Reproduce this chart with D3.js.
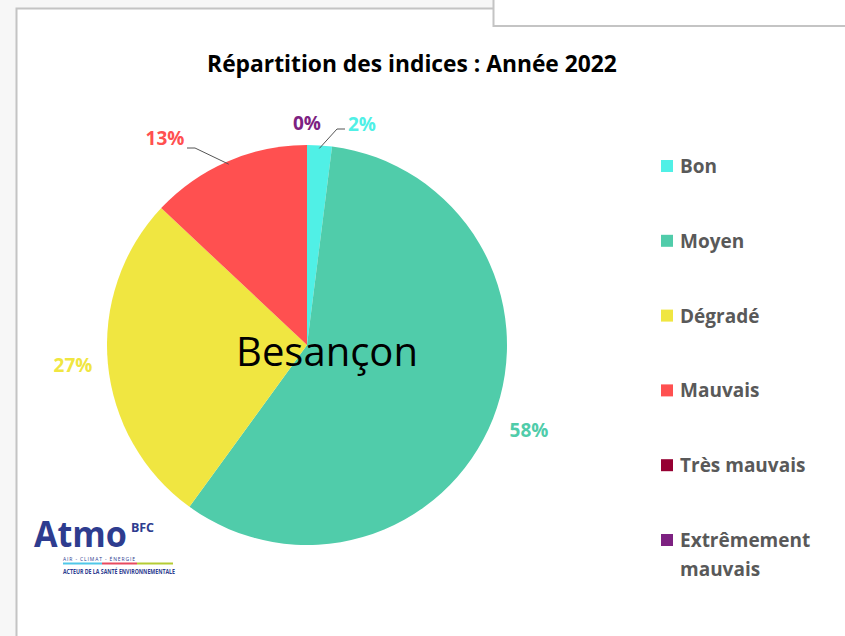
<!DOCTYPE html>
<html>
<head>
<meta charset="utf-8">
<script src="https://cdn.jsdelivr.net/npm/d3@7"></script>
<style>
  body { margin: 0; background: #f7f7f7; }
  svg { display: block; }
</style>
</head>
<body>
<div id="chart"></div>
<script>
var categories = ["Bon", "Moyen", "Dégradé", "Mauvais", "Très mauvais", "Extrêmement mauvais"];
var values = [2, 58, 27, 13, 0, 0];
var colors = ["#50F0E6", "#50CCAA", "#F0E641", "#FF5050", "#960032", "#7D2181"];
var legendLines = [["Bon"], ["Moyen"], ["Dégradé"], ["Mauvais"], ["Très mauvais"], ["Extrêmement", "mauvais"]];

var W = 845, H = 636;
var font = "'Open Sans', sans-serif";

var svg = d3.select("#chart").append("svg").attr("width", W).attr("height", H);

// panels
svg.append("rect").attr("x", 16.5).attr("y", 8.5).attr("width", W).attr("height", H)
  .attr("fill", "#fff").attr("stroke", "#c4c4c4").attr("stroke-width", 2);
svg.append("rect").attr("x", 493.5).attr("y", -5).attr("width", 400).attr("height", 31)
  .attr("fill", "#fff").attr("stroke", "#c4c4c4").attr("stroke-width", 2);

// title
svg.append("text").attr("x", 412).attr("y", 72).attr("text-anchor", "middle")
  .style("font-family", font).style("font-weight", "bold").style("font-size", "22.8px")
  .attr("fill", "#000").text("Répartition des indices : Année 2022");

var cx = 307, cy = 345, r = 200;
var color = d3.scaleOrdinal().domain(categories).range(colors);

var data = categories.map(function (c, i) { return { name: c, value: values[i] }; });
var pie = d3.pie().sort(null).value(function (d) { return d.value; });
var arcs = pie(data);
var arc = d3.arc().innerRadius(0).outerRadius(r);

var g = svg.append("g").attr("transform", "translate(" + cx + "," + cy + ")");
g.selectAll("path").data(arcs).enter().append("path")
  .attr("d", arc)
  .attr("fill", function (d) { return color(d.data.name); });

// labels
var labelPos = {
  "Bon": [362, 131, "middle"],
  "Moyen": [529, 437, "middle"],
  "Dégradé": [73, 372, "middle"],
  "Mauvais": [165, 145, "middle"],
  "Très mauvais": [-1, -1, "middle"],
  "Extrêmement mauvais": [307, 130, "middle"]
};
arcs.forEach(function (a) {
  var p = labelPos[a.data.name];
  if (p[0] < 0) return;
  svg.append("text").attr("x", p[0]).attr("y", p[1]).attr("text-anchor", p[2])
    .style("font-family", font).style("font-weight", "bold").style("font-size", "19px")
    .attr("fill", color(a.data.name)).text(Math.round(a.value) + "%");
});

// leader lines
function leader(name, pts) {
  var a = arcs.find(function (d) { return d.data.name === name; });
  var m = (a.startAngle + a.endAngle) / 2;
  var start = [cx + Math.sin(m) * (r - 3), cy - Math.cos(m) * (r - 3)];
  svg.append("path")
    .attr("d", d3.line()([start].concat(pts)))
    .attr("fill", "none").attr("stroke", "#555").attr("stroke-width", 1);
}
leader("Bon", [[337, 129], [345, 129]]);
leader("Mauvais", [[195, 148], [187, 148]]);

// center text
svg.append("text").attr("x", 327).attr("y", 366).attr("text-anchor", "middle")
  .style("font-family", font).style("font-size", "40px")
  .attr("fill", "#000").text("Besançon");

// legend
var legend = svg.append("g");
legendLines.forEach(function (lines, i) {
  var y = 166 + i * 74.8;
  legend.append("rect").attr("x", 661).attr("y", y - 6).attr("width", 12).attr("height", 12)
    .attr("fill", colors[i]);
  lines.forEach(function (t, j) {
    legend.append("text").attr("x", 680).attr("y", y + 7 + j * 29)
      .style("font-family", font).style("font-weight", "bold").style("font-size", "19px")
      .attr("fill", "#595959").text(t);
  });
});

// logo
var logo = svg.append("g");
logo.append("text").attr("x", 34).attr("y", 547)
  .style("font-family", font).style("font-weight", "bold").style("font-size", "36px")
  .attr("fill", "#2E3C8F").attr("textLength", 93).attr("lengthAdjust", "spacingAndGlyphs").text("Atmo");
logo.append("text").attr("x", 131).attr("y", 532)
  .style("font-family", font).style("font-weight", "bold").style("font-size", "12.5px")
  .attr("fill", "#2E3C8F").attr("textLength", 23).text("BFC");
logo.append("text").attr("x", 63).attr("y", 561)
  .style("font-family", font).style("font-size", "5px")
  .attr("fill", "#2E3C8F").attr("textLength", 72).text("AIR - CLIMAT - ÉNERGIE");
logo.append("rect").attr("x", 63).attr("y", 562.5).attr("width", 39).attr("height", 2).attr("fill", "#50C8E8");
logo.append("rect").attr("x", 102).attr("y", 562.5).attr("width", 35).attr("height", 2).attr("fill", "#E84A5F");
logo.append("rect").attr("x", 137).attr("y", 562.5).attr("width", 36).attr("height", 2).attr("fill", "#B5CC34");
logo.append("text").attr("x", 63).attr("y", 574)
  .style("font-family", font).style("font-weight", "bold").style("font-size", "7px")
  .attr("fill", "#2E3C8F").attr("textLength", 112).attr("lengthAdjust", "spacingAndGlyphs")
  .text("ACTEUR DE LA SANTÉ ENVIRONNEMENTALE");
</script>
</body>
</html>
